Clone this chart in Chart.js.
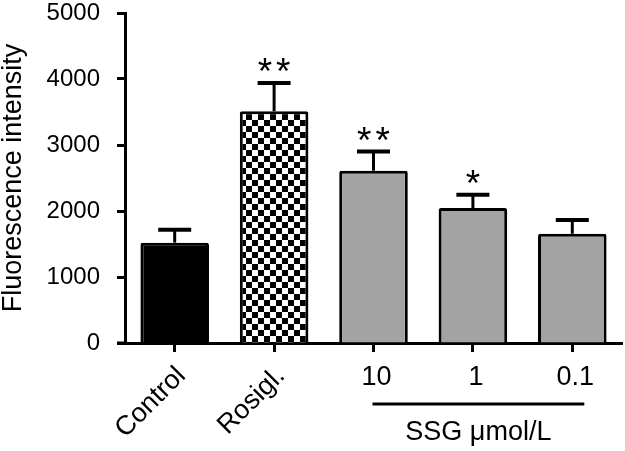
<!DOCTYPE html>
<html>
<head>
<meta charset="utf-8">
<script src="https://cdn.jsdelivr.net/npm/chart.js@4.4.1/dist/chart.umd.min.js"></script>
<style>
  html, body { margin: 0; padding: 0; background: #fff; }
  canvas { display: block; }
</style>
</head>
<body>
<canvas id="fluoChart" width="625" height="451"></canvas>
<script>
// Datos
const groups = ['Control', 'Rosigl.', '10', '1', '0.1'];
const meanValues = [1520, 3510, 2610, 2045, 1655];
const semValues = [195, 430, 290, 200, 210];
const significance = ['', '**', '**', '*', ''];
const rotatedLabels = [true, true, false, false, false];
const yTicks = [0, 1000, 2000, 3000, 4000, 5000];
const doseGroupLabel = 'SSG μmol/L';

const FONT = "'Liberation Sans', Arial, Helvetica, sans-serif";

// Patrón de cuadros para Rosigl.
function makeChecker() {
  const c = document.createElement('canvas');
  c.width = 12;
  c.height = 12;
  const g = c.getContext('2d');
  g.fillStyle = '#fff';
  g.fillRect(0, 0, 12, 12);
  g.fillStyle = '#000';
  g.fillRect(0, 0, 6, 6);
  g.fillRect(6, 6, 6, 6);
  return g.createPattern(c, 'repeat');
}

const ctx = document.getElementById('fluoChart').getContext('2d');
const checker = makeChecker();
const barColors = ['#000000', checker, '#a3a3a3', '#a3a3a3', '#a3a3a3'];

// Barras de error, asteriscos y etiquetas del eje x
const annotations = {
  id: 'annotations',
  afterDatasetsDraw(chart) {
    const c = chart.ctx;
    const xs = chart.scales.x;
    const ys = chart.scales.y;
    c.save();
    c.strokeStyle = '#000';
    c.fillStyle = '#000';

    meanValues.forEach((v, i) => {
      const x = xs.getPixelForValue(i);
      const yTop = ys.getPixelForValue(v);
      const yErr = ys.getPixelForValue(v + semValues[i]);
      c.lineWidth = 3;
      c.beginPath();
      c.moveTo(x, yTop);
      c.lineTo(x, yErr);
      c.stroke();
      c.lineWidth = 4;
      c.beginPath();
      c.moveTo(x - 16.5, yErr);
      c.lineTo(x + 16.5, yErr);
      c.stroke();

      if (significance[i]) {
        c.font = '37px ' + FONT;
        c.letterSpacing = '4px';
        c.textAlign = 'center';
        c.textBaseline = 'alphabetic';
        c.fillText(significance[i], x + 2, yErr + 1);
        c.letterSpacing = '0px';
      }
    });
    c.restore();
  },
  afterDraw(chart) {
    const c = chart.ctx;
    const xs = chart.scales.x;
    const ys = chart.scales.y;
    const area = chart.chartArea;
    c.save();
    c.fillStyle = '#000';
    c.strokeStyle = '#000';

    // el eje x sobresale a la izquierda del eje y
    c.lineWidth = 3;
    c.beginPath();
    c.moveTo(area.left - 8, ys.getPixelForValue(0));
    c.lineTo(area.left, ys.getPixelForValue(0));
    c.stroke();

    c.font = '27px ' + FONT;
    groups.forEach((label, i) => {
      const x = xs.getPixelForValue(i);
      if (rotatedLabels[i]) {
        c.save();
        c.translate(x + 12, 377);
        c.rotate(-Math.PI / 4);
        c.textAlign = 'right';
        c.textBaseline = 'alphabetic';
        c.fillText(label, 0, 0);
        c.restore();
      } else {
        c.textAlign = 'center';
        c.textBaseline = 'alphabetic';
        c.fillText(label, x + 3, 385);
      }
    });

    // línea bajo las dosis de SSG
    const x0 = xs.getPixelForValue(2) - 1;
    const x1 = xs.getPixelForValue(4) + 12;
    c.lineWidth = 3;
    c.beginPath();
    c.moveTo(x0, 404);
    c.lineTo(x1, 404);
    c.stroke();

    c.textAlign = 'center';
    c.fillText(doseGroupLabel, (x0 + x1) / 2, 440);
    c.restore();
  }
};

const fluoChart = new Chart(ctx, {
  type: 'bar',
  data: {
    labels: groups,
    datasets: [{
      data: meanValues,
      backgroundColor: barColors,
      borderColor: '#000',
      borderWidth: 3,
      borderRadius: 2,
      categoryPercentage: 1,
      barPercentage: 0.69
    }]
  },
  options: {
    responsive: false,
    devicePixelRatio: 1,
    animation: false,
    layout: { padding: { top: 13, right: 3, left: 0, bottom: 0 } },
    plugins: {
      legend: { display: false },
      tooltip: { enabled: false }
    },
    scales: {
      x: {
        offset: true,
        grid: {
          offset: false,
          drawOnChartArea: false,
          tickLength: 9,
          tickWidth: 3,
          tickColor: '#000'
        },
        border: { color: '#000', width: 3 },
        ticks: { display: false },
        afterFit(scale) {
          scale.height = 108;
          scale.paddingLeft = 0;
          scale.paddingRight = 0;
        }
      },
      y: {
        min: 0,
        max: 5000,
        afterBuildTicks(scale) {
          scale.ticks = yTicks.map(v => ({ value: v }));
        },
        grid: {
          drawOnChartArea: false,
          tickLength: 8,
          tickWidth: 3,
          tickColor: '#000'
        },
        border: { color: '#000', width: 3 },
        ticks: {
          color: '#000',
          padding: 17,
          font: { family: FONT, size: 24 },
          callback: (v) => String(v)
        },
        title: {
          display: true,
          text: 'Fluorescence intensity',
          color: '#000',
          padding: 0,
          font: { family: FONT, size: 27, lineHeight: 1 }
        },
        afterFit(scale) {
          scale.width = 125;
          scale.paddingTop = 0;
          scale.paddingBottom = 0;
        }
      }
    }
  },
  plugins: [annotations]
});
</script>
</body>
</html>
